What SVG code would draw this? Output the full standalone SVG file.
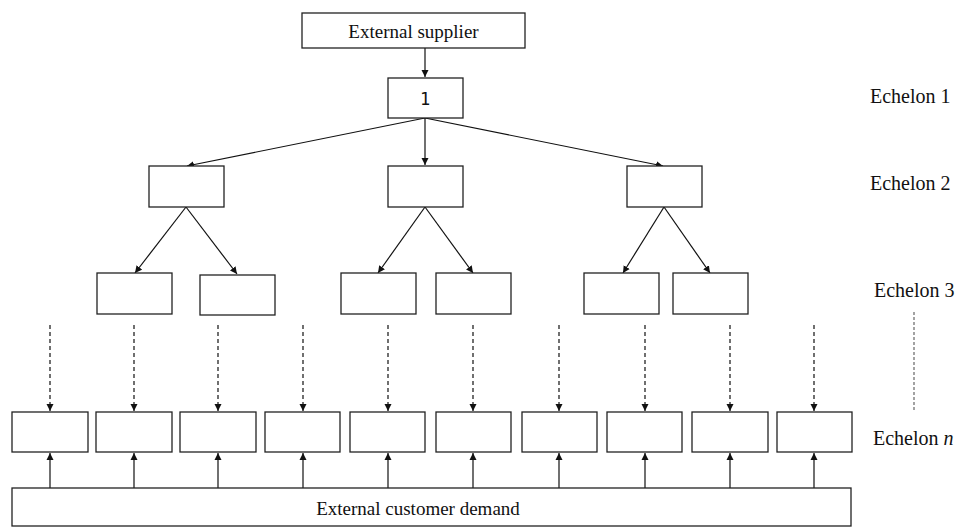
<svg xmlns="http://www.w3.org/2000/svg" width="965" height="527" viewBox="0 0 965 527">
<style>
.box{fill:#fff;stroke:#222;stroke-width:1.3}
.ln{stroke:#111;stroke-width:1.2;fill:none}
.dash{stroke:#111;stroke-width:1.2;fill:none;stroke-dasharray:4 3}
.t{font-family:"Liberation Serif","Times New Roman",serif;font-size:19px;fill:#111}
.e{font-family:"Liberation Serif","Times New Roman",serif;font-size:20px;fill:#111}
</style>
<defs>
<marker id="ah" markerWidth="8" markerHeight="8" refX="7" refY="4" orient="auto" markerUnits="userSpaceOnUse">
<path d="M0,0.5 L7,4 L0,7.5 Z" fill="#111"/>
</marker>
</defs>
<rect width="965" height="527" fill="#fff"/>
<g id="connectors">
<line class="ln" x1="425" y1="48" x2="425" y2="77" marker-end="url(#ah)"/>
<line class="ln" x1="425" y1="118" x2="187" y2="166" marker-end="url(#ah)"/>
<line class="ln" x1="425" y1="118" x2="425" y2="165" marker-end="url(#ah)"/>
<line class="ln" x1="425" y1="118" x2="663" y2="166" marker-end="url(#ah)"/>
<line class="ln" x1="186" y1="207" x2="135" y2="273" marker-end="url(#ah)"/>
<line class="ln" x1="186" y1="207" x2="237" y2="274" marker-end="url(#ah)"/>
<line class="ln" x1="425" y1="207" x2="378" y2="273" marker-end="url(#ah)"/>
<line class="ln" x1="425" y1="207" x2="473" y2="273" marker-end="url(#ah)"/>
<line class="ln" x1="664" y1="207" x2="623" y2="273" marker-end="url(#ah)"/>
<line class="ln" x1="664" y1="207" x2="710" y2="273" marker-end="url(#ah)"/>
<g>
<line class="dash" x1="50" y1="325" x2="50" y2="411" marker-end="url(#ah)"/>
<line class="dash" x1="134" y1="325" x2="134" y2="411" marker-end="url(#ah)"/>
<line class="dash" x1="218" y1="325" x2="218" y2="411" marker-end="url(#ah)"/>
<line class="dash" x1="303" y1="325" x2="303" y2="411" marker-end="url(#ah)"/>
<line class="dash" x1="388" y1="325" x2="388" y2="411" marker-end="url(#ah)"/>
<line class="dash" x1="473" y1="325" x2="473" y2="411" marker-end="url(#ah)"/>
<line class="dash" x1="559" y1="325" x2="559" y2="411" marker-end="url(#ah)"/>
<line class="dash" x1="645" y1="325" x2="645" y2="411" marker-end="url(#ah)"/>
<line class="dash" x1="730" y1="325" x2="730" y2="411" marker-end="url(#ah)"/>
<line class="dash" x1="814" y1="325" x2="814" y2="411" marker-end="url(#ah)"/>
</g>
<g>
<line class="ln" x1="50" y1="488" x2="50" y2="453" marker-end="url(#ah)"/>
<line class="ln" x1="134" y1="488" x2="134" y2="453" marker-end="url(#ah)"/>
<line class="ln" x1="218" y1="488" x2="218" y2="453" marker-end="url(#ah)"/>
<line class="ln" x1="303" y1="488" x2="303" y2="453" marker-end="url(#ah)"/>
<line class="ln" x1="388" y1="488" x2="388" y2="453" marker-end="url(#ah)"/>
<line class="ln" x1="473" y1="488" x2="473" y2="453" marker-end="url(#ah)"/>
<line class="ln" x1="559" y1="488" x2="559" y2="453" marker-end="url(#ah)"/>
<line class="ln" x1="645" y1="488" x2="645" y2="453" marker-end="url(#ah)"/>
<line class="ln" x1="730" y1="488" x2="730" y2="453" marker-end="url(#ah)"/>
<line class="ln" x1="814" y1="488" x2="814" y2="453" marker-end="url(#ah)"/>
</g>
<line x1="914" y1="312" x2="914" y2="412" stroke="#666" stroke-width="1.2" stroke-dasharray="3 2"/>
</g>
<g id="supplier"><rect class="box" x="302" y="13" width="223" height="35"/><text class="t" x="413.5" y="38" text-anchor="middle">External supplier</text></g>
<g id="node1"><rect class="box" x="388" y="78" width="75" height="40"/><text x="425" y="105" text-anchor="middle" font-family="DejaVu Sans Mono,monospace" font-size="17" fill="#111">1</text></g>
<g id="e2a"><rect class="box" x="149" y="166" width="75" height="41"/></g>
<g id="e2b"><rect class="box" x="388" y="166" width="75" height="41"/></g>
<g id="e2c"><rect class="box" x="627" y="166" width="75" height="41"/></g>
<g id="e3a"><rect class="box" x="97" y="273" width="75" height="41"/></g>
<g id="e3b"><rect class="box" x="200" y="275" width="75" height="40"/></g>
<g id="e3c"><rect class="box" x="341" y="273" width="75" height="41"/></g>
<g id="e3d"><rect class="box" x="436" y="273" width="75" height="41"/></g>
<g id="e3e"><rect class="box" x="584" y="273" width="75" height="41"/></g>
<g id="e3f"><rect class="box" x="673" y="273" width="75" height="41"/></g>
<g id="en1"><rect class="box" x="12" y="412" width="76" height="40"/></g>
<g id="en2"><rect class="box" x="96" y="412" width="76" height="40"/></g>
<g id="en3"><rect class="box" x="180" y="412" width="76" height="40"/></g>
<g id="en4"><rect class="box" x="265" y="412" width="75" height="40"/></g>
<g id="en5"><rect class="box" x="350" y="412" width="75" height="40"/></g>
<g id="en6"><rect class="box" x="436" y="412" width="75" height="40"/></g>
<g id="en7"><rect class="box" x="522" y="412" width="75" height="40"/></g>
<g id="en8"><rect class="box" x="607" y="412" width="75" height="40"/></g>
<g id="en9"><rect class="box" x="692" y="412" width="76" height="40"/></g>
<g id="en10"><rect class="box" x="777" y="412" width="75" height="40"/></g>
<g id="demand"><rect class="box" x="12" y="488" width="839" height="38"/><text class="t" x="418" y="515" text-anchor="middle">External customer demand</text></g>
<g id="labels">
<text class="e" x="870" y="103">Echelon 1</text>
<text class="e" x="870" y="190">Echelon 2</text>
<text class="e" x="874" y="297">Echelon 3</text>
<text class="e" x="873" y="445">Echelon <tspan font-style="italic">n</tspan></text>
</g>
</svg>
